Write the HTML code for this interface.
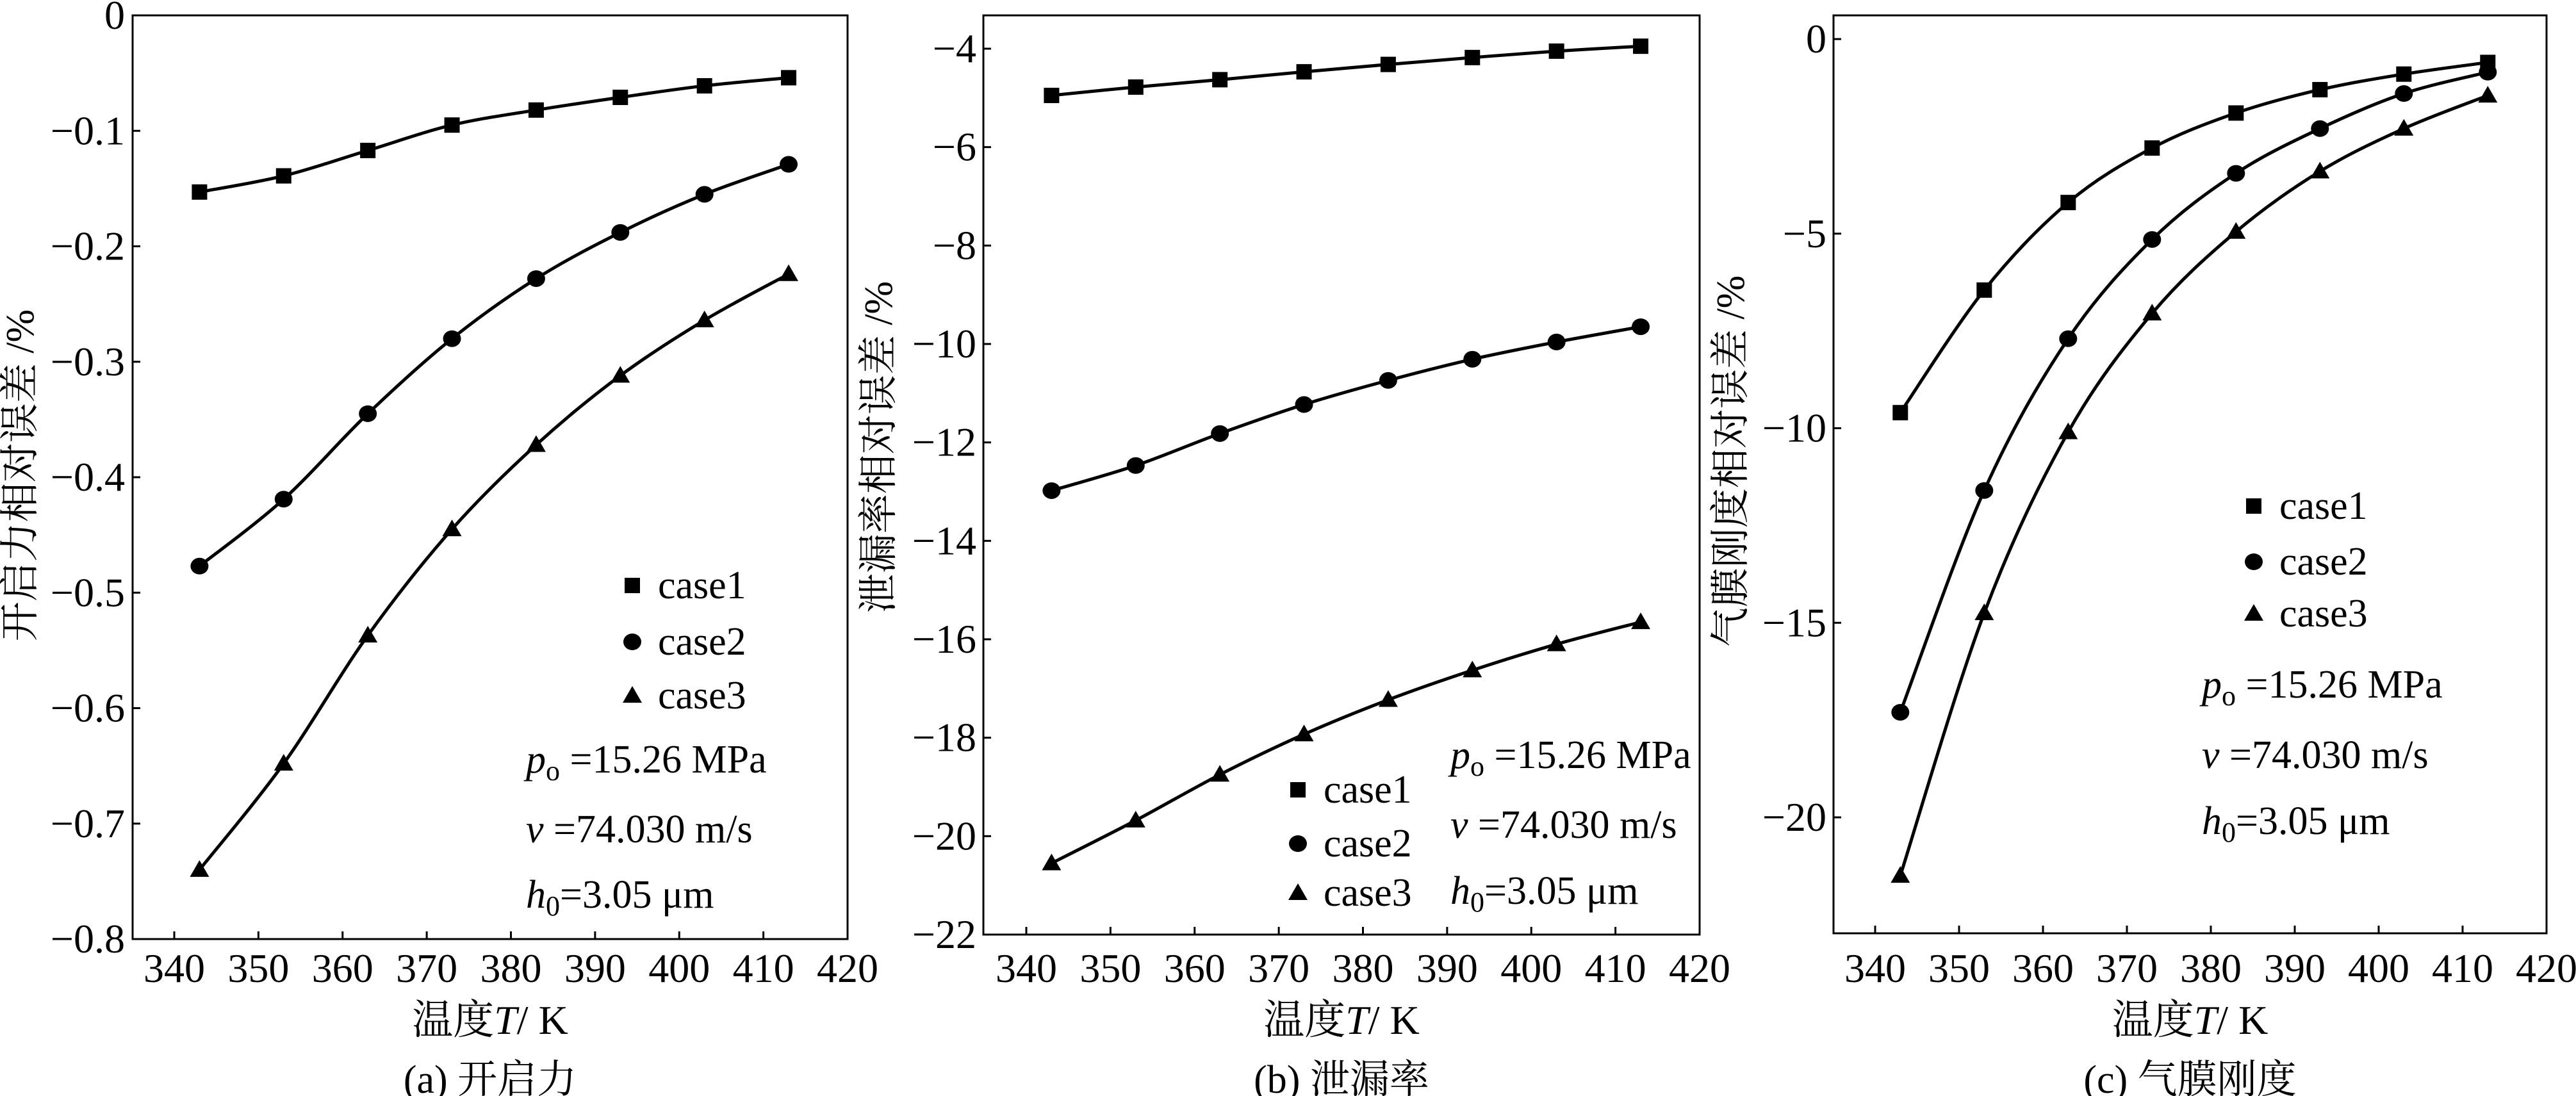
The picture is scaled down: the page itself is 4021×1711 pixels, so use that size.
<!DOCTYPE html>
<html><head><meta charset="utf-8">
<style>
html,body{margin:0;padding:0;background:#fff;}
svg{display:block;}
svg text{font-family:"Liberation Serif","Noto Serif CJK SC","Noto Sans CJK SC",serif;}
</style></head>
<body>
<svg id="fig" width="4021" height="1711" viewBox="0 0 4021 1711" xmlns="http://www.w3.org/2000/svg"></svg>
<script>
const temps = [343,353,363,373,383,393,403,413];
const xTicks = [340,350,360,370,380,390,400,410,420];
const seriesNames = ["case1","case2","case3"];
const aCase1 = [-0.153,-0.139,-0.117,-0.095,-0.082,-0.071,-0.061,-0.054];
const aCase2 = [-0.477,-0.419,-0.345,-0.280,-0.228,-0.188,-0.155,-0.129];
const aCase3 = [-0.740,-0.648,-0.537,-0.445,-0.372,-0.312,-0.264,-0.224];
const aTicks = [0,-0.1,-0.2,-0.3,-0.4,-0.5,-0.6,-0.7,-0.8];
const aTickLabels = ["0","\u22120.1","\u22120.2","\u22120.3","\u22120.4","\u22120.5","\u22120.6","\u22120.7","\u22120.8"];
const bCase1 = [-4.95,-4.78,-4.63,-4.47,-4.32,-4.18,-4.05,-3.95];
const bCase2 = [-12.98,-12.47,-11.82,-11.23,-10.74,-10.31,-9.96,-9.65];
const bCase3 = [-20.55,-19.68,-18.75,-17.93,-17.23,-16.63,-16.10,-15.65];
const bTicks = [-4,-6,-8,-10,-12,-14,-16,-18,-20,-22];
const bTickLabels = ["\u22124","\u22126","\u22128","\u221210","\u221212","\u221214","\u221216","\u221218","\u221220","\u221222"];
const cCase1 = [-9.6,-6.45,-4.2,-2.8,-1.9,-1.3,-0.9,-0.6];
const cCase2 = [-17.3,-11.6,-7.7,-5.15,-3.45,-2.3,-1.4,-0.85];
const cCase3 = [-21.5,-14.75,-10.1,-7.05,-4.95,-3.4,-2.3,-1.45];
const cTicks = [0,-5,-10,-15,-20];
const cTickLabels = ["0","\u22125","\u221210","\u221215","\u221220"];

const NS="http://www.w3.org/2000/svg";
const FONT='"Liberation Serif", "Noto Serif CJK SC", serif';
const svg=document.getElementById('fig');
function mk(tag,attrs,parent){const e=document.createElementNS(NS,tag);for(const k in attrs)e.setAttribute(k,attrs[k]);(parent||svg).appendChild(e);return e;}
function txt(s,attrs,parent){attrs['font-family']=FONT;const e=mk('text',attrs,parent);e.textContent=s;return e;}

function marker(g,type,x,y){
  let m;
  if(type===0){m=mk('rect',{x:x-12,y:y-12,width:24,height:24,fill:'#000'},g);}
  else if(type===1){m=mk('ellipse',{cx:x,cy:y,rx:14,ry:13,fill:'#000'},g);}
  else {m=mk('polygon',{points:`${x},${y-15} ${x+15},${y+11} ${x-15},${y+11}`,fill:'#000'},g);}
  return m;
}
function smoothPath(pts){
  let d=`M${pts[0][0]},${pts[0][1]}`;
  for(let i=0;i<pts.length-1;i++){
    const p0=pts[Math.max(0,i-1)],p1=pts[i],p2=pts[i+1],p3=pts[Math.min(pts.length-1,i+2)];
    const c1=[p1[0]+(p2[0]-p0[0])/6,p1[1]+(p2[1]-p0[1])/6];
    const c2=[p2[0]-(p3[0]-p1[0])/6,p2[1]-(p3[1]-p1[1])/6];
    d+=` C${c1[0]},${c1[1]} ${c2[0]},${c2[1]} ${p2[0]},${p2[1]}`;
  }
  return d;
}

function panel(cfg){
  const g=mk('g',{});
  
  
  const L=cfg.left,R=cfg.right,T=cfg.top,B=cfg.bottom;
  const xScale=v=>cfg.x340+(v-340)*(R-cfg.x340)/80;
  const yScale=v=>cfg.y0+(v-cfg.v0)*(cfg.y1-cfg.y0)/(cfg.v1-cfg.v0);
  const frame=mk('rect',{x:L,y:T,width:R-L,height:B-T,fill:'none',stroke:'#000','stroke-width':3},g);
  
  
  xTicks.forEach(t=>{
    const x=xScale(t);
    if(x<R-2) mk('line',{x1:x,y1:B,x2:x,y2:B-12,stroke:'#000','stroke-width':3},g);
    const lb=txt(String(t),{x:x,y:1533,'font-size':64,'text-anchor':'middle'},g);
    
    
  });
  cfg.ticks.forEach((t,i)=>{
    const y=yScale(t);
    if(y>T+2&&y<B-2) mk('line',{x1:L,y1:y,x2:L+12,y2:y,stroke:'#000','stroke-width':3},g);
    const lb=txt(cfg.tickLabels[i],{x:cfg.tickRight,y:y+21,'font-size':64,'text-anchor':'end'},g);
    
    
  });
  cfg.series.forEach((arr,si)=>{
    const pts=arr.map((v,i)=>[xScale(temps[i]),yScale(v)]);
    const p=mk('path',{d:smoothPath(pts),fill:'none',stroke:'#000','stroke-width':5},g);
    
    
    pts.forEach(pt=>{
      const m=marker(g,si,pt[0],pt[1]);
      
      
    });
  });
  seriesNames.forEach((n,i)=>{
    const m=marker(g,i,cfg.legX,cfg.legY[i]);
    
    
    const t=txt(n,{x:cfg.legX+40,y:cfg.legY[i]+20,'font-size':62},g);
    
    
  });
  const a1=mk('text',{x:cfg.annX,y:cfg.annY[0]+20,'font-size':62,'font-family':FONT},g);
  
  
  a1.innerHTML='<tspan font-style="italic">p</tspan><tspan font-size="44" dy="12">o</tspan><tspan dy="-12"> =15.26 MPa</tspan>';
  const a2=mk('text',{x:cfg.annX,y:cfg.annY[1]+20,'font-size':62,'font-family':FONT},g);
  
  
  a2.innerHTML='<tspan font-style="italic">v</tspan><tspan> =74.030 m/s</tspan>';
  const a3=mk('text',{x:cfg.annX,y:cfg.annY[2]+20,'font-size':62,'font-family':FONT},g);
  
  
  a3.innerHTML='<tspan font-style="italic">h</tspan><tspan font-size="44" dy="12">0</tspan><tspan dy="-12">=3.05 μm</tspan>';
  const cx=(L+R)/2;
  const xl=mk('text',{x:cx,y:1614,'font-size':64,'text-anchor':'middle','font-family':FONT},g);
  
  
  xl.innerHTML='温度<tspan font-style="italic">T</tspan>/ K';
  const yl=txt(cfg.ylabel,{x:0,y:0,'font-size':62,'text-anchor':'middle',transform:`translate(${cfg.ylX},${cfg.ylY}) rotate(-90)`},g);
  
  
  const cap=txt(cfg.caption,{x:cx,y:1706,'font-size':62,'text-anchor':'middle'},g);
  
  
}

panel({name:'chart-a-opening-force',left:207,right:1323,top:24,bottom:1466,x340:272,
  v0:0,y0:24,v1:-0.8,y1:1466,ticks:aTicks,tickLabels:aTickLabels,tickRight:195,
  series:[aCase1,aCase2,aCase3],legX:987,legY:[914,1002,1086],annX:821,annY:[1186,1295,1397],
  ylabel:'开启力相对误差 /%',ylX:52,ylY:742,caption:'(a) 开启力'});
panel({name:'chart-b-leakage-rate',left:1535,right:2653,top:24,bottom:1459,x340:1602,
  v0:-4,y0:76,v1:-22,y1:1459,ticks:bTicks,tickLabels:bTickLabels,tickRight:1524,
  series:[bCase1,bCase2,bCase3],legX:2026,legY:[1233,1317,1394],annX:2264,annY:[1179,1288,1391],
  ylabel:'泄漏率相对误差 /%',ylX:1392,ylY:698,caption:'(b) 泄漏率'});
panel({name:'chart-c-film-stiffness',left:2862,right:3975,top:24,bottom:1457,x340:2927,
  v0:0,y0:61,v1:-20,y1:1276,ticks:cTicks,tickLabels:cTickLabels,tickRight:2851,
  series:[cCase1,cCase2,cCase3],legX:3518,legY:[790,877,958],annX:3437,annY:[1069,1179,1282],
  ylabel:'气膜刚度相对误差 /%',ylX:2722,ylY:720,caption:'(c) 气膜刚度'});
</script>
</body></html>
